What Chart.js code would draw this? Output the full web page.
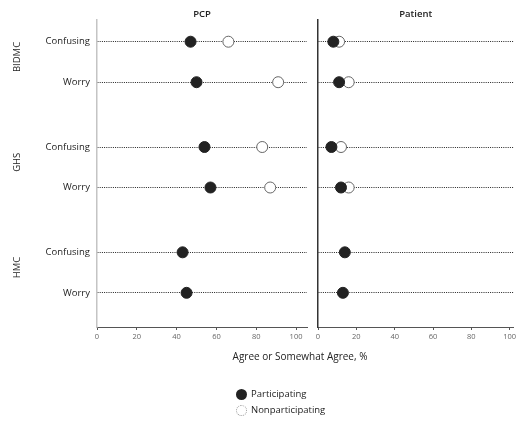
<!DOCTYPE html>
<html>
<head>
<meta charset="utf-8">
<script src="https://cdn.jsdelivr.net/npm/chart.js@4.4.1/dist/chart.umd.min.js"></script>
<style>
  html, body { margin: 0; padding: 0; background: #fff; }
  #wrap { position: relative; width: 520px; height: 424px; font-family: "Open Sans", sans-serif; }
  #wrap canvas { position: absolute; left: 0; top: 0; }
  #xtitle { position: absolute; left: 200px; width: 200px; top: 349px; text-align: center; font-size: 10px; color: #222; }
  .leg { position: absolute; left: 236px; font-size: 9.5px; color: #222; height: 12px; line-height: 12px; }
  .leg .sw { position: absolute; left: 0; top: 0.5px; width: 11px; height: 11px; border-radius: 50%; box-sizing: border-box; }
  .leg span.t { position: absolute; left: 15px; top: 0; white-space: nowrap; }
</style>
</head>
<body>
<div id="wrap">
  <canvas id="cA" width="520" height="424"></canvas>
  <canvas id="cB" width="520" height="424"></canvas>
  <div id="xtitle">Agree or Somewhat Agree, %</div>
  <div class="leg" style="top:388px"><div class="sw" style="background:#222;"></div><span class="t">Participating</span></div>
  <div class="leg" style="top:404px"><div class="sw" style="background:#fff;border:1px dotted #999;"></div><span class="t">Nonparticipating</span></div>
</div>
<script>
// ---- data ----
const groups = ['BIDMC', 'GHS', 'HMC'];
const items = ['Confusing', 'Worry'];
const panels = ['PCP', 'Patient'];
const xTicks = [0, 20, 40, 60, 80, 100];
// rows in order: BIDMC Confusing, BIDMC Worry, GHS Confusing, GHS Worry, HMC Confusing, HMC Worry
const pcpParticipating = [47, 50, 54, 57, 43, 45];
const pcpNonparticipating = [66, 91, 83, 87, null, null];
const patientParticipating = [8, 11, 7, 12, 14, 13];
const patientNonparticipating = [11, 16, 12, 16, null, null];

// ---- layout helpers ----
const GROUP_STEP = 2.6; // vertical distance between groups (in row units)
const rowPos = [];
const rowLabel = [];
groups.forEach((g, gi) => items.forEach((it, ii) => { rowPos.push(1 + gi * GROUP_STEP + ii); rowLabel.push(it); }));
const Y_MIN = 0.464, Y_MAX = 8.044;

const FONT = '"Open Sans", sans-serif';

function pts(vals) {
  const out = [];
  vals.forEach((v, i) => { if (v !== null && v !== undefined) out.push({ x: v, y: rowPos[i] }); });
  return out;
}

const panelTitle = {
  id: 'panelTitle',
  afterDraw(chart, args, opts) {
    const { ctx, chartArea } = chart;
    ctx.save();
    ctx.font = '600 9.5px ' + FONT;
    ctx.fillStyle = '#222';
    ctx.textAlign = 'center';
    ctx.textBaseline = 'middle';
    ctx.fillText(opts.text, (chartArea.left + chartArea.right) / 2, 14);
    ctx.restore();
  }
};

const groupLabels = {
  id: 'groupLabels',
  afterDraw(chart, args, opts) {
    if (!opts.show) return;
    const { ctx } = chart;
    const ys = chart.scales.y;
    ctx.save();
    ctx.font = '500 9.5px ' + FONT;
    ctx.fillStyle = '#222';
    ctx.textAlign = 'center';
    ctx.textBaseline = 'middle';
    groups.forEach((g, gi) => {
      const y0 = ys.getPixelForValue(rowPos[gi * items.length]);
      const y1 = ys.getPixelForValue(rowPos[gi * items.length + items.length - 1]);
      const cy = (y0 + y1) / 2 - 5;
      ctx.save();
      ctx.translate(17, cy);
      ctx.rotate(-Math.PI / 2);
      ctx.fillText(g, 0, 0);
      ctx.restore();
    });
    ctx.restore();
  }
};

function makeChart(id, title, partVals, nonVals, opts) {
  return new Chart(document.getElementById(id), {
    type: 'scatter',
    data: {
      datasets: [
        { label: 'Participating', data: pts(partVals), backgroundColor: '#222', borderColor: '#222', borderWidth: 1, pointRadius: 5.5, pointHoverRadius: 5.5 },
        { label: 'Nonparticipating', data: pts(nonVals), backgroundColor: '#fff', borderColor: '#666', borderWidth: 1, pointRadius: 5.5, pointHoverRadius: 5.5 }
      ]
    },
    options: {
      responsive: false,
      animation: false,
      events: [],
      layout: { padding: opts.padding },
      plugins: {
        legend: { display: false },
        tooltip: { enabled: false },
        panelTitle: { text: title },
        groupLabels: { show: opts.showLabels }
      },
      scales: {
        x: {
          type: 'linear',
          min: 0,
          max: opts.xMax,
          afterBuildTicks: s => { s.ticks = xTicks.map(v => ({ value: v })); },
          afterFit: s => { s.height = 97; },
          grid: { display: true, drawOnChartArea: false, drawTicks: true, tickLength: 3, color: '#555', lineWidth: 1 },
          border: { display: true, color: '#555', width: 1 },
          ticks: { font: { family: FONT, size: 7.5 }, color: '#666', padding: 2, maxRotation: 0 }
        },
        y: {
          type: 'linear',
          reverse: true,
          min: Y_MIN,
          max: Y_MAX,
          afterBuildTicks: s => { s.ticks = rowPos.map(v => ({ value: v })); },
          afterFit: s => { s.width = opts.yWidth; },
          grid: { display: true, drawTicks: false, color: '#222', lineWidth: 1 },
          border: { display: true, color: opts.yBorderColor, width: 1.5, dash: [1, 1.2] },
          ticks: {
            display: opts.showLabels,
            font: { family: FONT, size: 9.5 },
            color: '#222',
            padding: 7,
            callback: (v) => { const i = rowPos.indexOf(v); return i >= 0 ? rowLabel[i] : ''; }
          }
        }
      }
    },
    plugins: [panelTitle, groupLabels]
  });
}

makeChart('cA', panels[0], pcpParticipating, pcpNonparticipating,
  { padding: { left: 0, top: 20, right: 213, bottom: 0 }, xMax: 105.5, yWidth: 97, showLabels: true, yBorderColor: '#c4c4c4' });
makeChart('cB', panels[1], patientParticipating, patientNonparticipating,
  { padding: { left: 318, top: 20, right: 0, bottom: 0 }, xMax: 102, yWidth: 0, showLabels: false, yBorderColor: '#333' });
</script>
</body>
</html>
